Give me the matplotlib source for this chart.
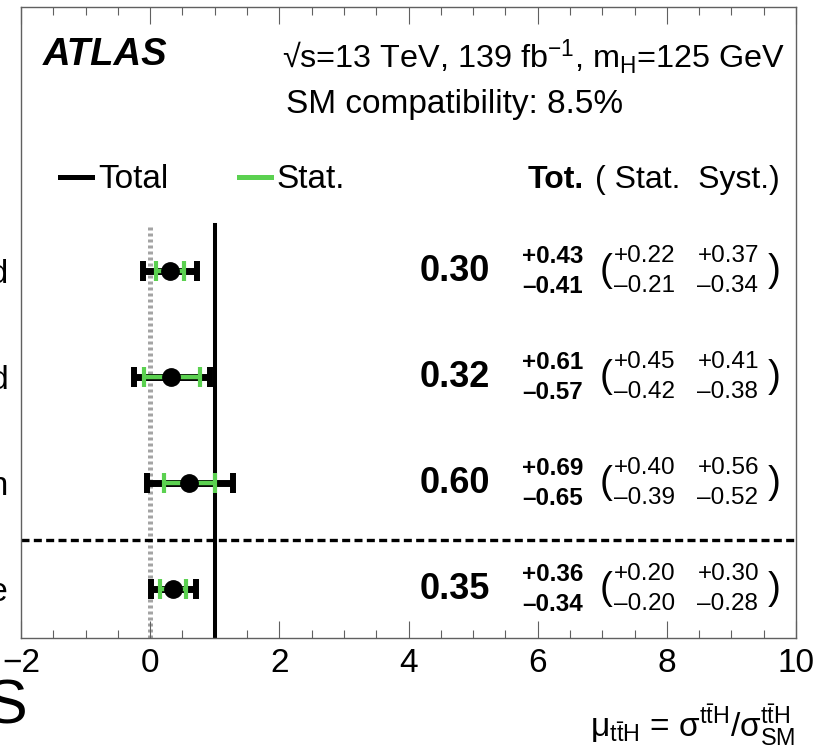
import matplotlib
matplotlib.use("Agg")
import matplotlib.pyplot as plt
from matplotlib.lines import Line2D
from matplotlib.ticker import MultipleLocator

plt.rcParams['font.family'] = ['Liberation Sans', 'DejaVu Sans']
plt.rcParams['mathtext.fontset'] = 'custom'
plt.rcParams['mathtext.rm'] = 'Liberation Sans'
plt.rcParams['mathtext.it'] = 'Liberation Sans:italic'
plt.rcParams['mathtext.bf'] = 'Liberation Sans:bold'

# Signal-strength fits per analysis region (top to bottom)
channels = ["Single-lepton boosted", "Single-lepton resolved", "Dilepton", "Inclusive"]
mu = [0.30, 0.32, 0.60, 0.35]
tot_up = [0.43, 0.61, 0.69, 0.36]
tot_dn = [0.41, 0.57, 0.65, 0.34]
stat_up = [0.22, 0.45, 0.40, 0.20]
stat_dn = [0.21, 0.42, 0.39, 0.20]
syst_up = [0.37, 0.41, 0.56, 0.30]
syst_dn = [0.34, 0.38, 0.52, 0.28]
x_ticks = [-2, 0, 2, 4, 6, 8, 10]

rows = [4, 3, 2, 1]
GREEN = '#5bd150'
FRAME = '#606060'

fig = plt.figure(figsize=(8.26, 7.51), dpi=100)
ax = fig.add_axes([21 / 826, 1 - 638 / 751, 775 / 826, 631 / 751])
ax.set_xlim(-2, 10)
ax.set_ylim(0.54, 6.49)

for s in ax.spines.values():
    s.set_color(FRAME)
    s.set_linewidth(1.0)

ax.set_xticks(x_ticks)
ax.xaxis.set_minor_locator(MultipleLocator(0.5))
ax.tick_params(axis='x', which='both', direction='in', top=True, bottom=True,
               color=FRAME, width=0.8, labelsize=24, pad=7)
ax.tick_params(axis='x', which='major', length=12)
ax.tick_params(axis='x', which='minor', length=6)
ax.set_yticks(rows)
ax.set_yticklabels(channels)
ax.tick_params(axis='y', which='both', length=0, labelsize=24, pad=9)

# reference lines: SM expectation and zero
ax.plot([1, 1], [0.54, 4.43], color='black', lw=2.9, zorder=2)
ax.plot([0, 0], [0.54, 4.43], color='#a4a4a4', lw=3.6, dashes=(0.6, 0.6), zorder=1)
ax.axhline(1.46, color='black', lw=2.4, dashes=(2.4, 1.3), zorder=2)

# total and statistical uncertainties
ax.errorbar(mu, rows, xerr=[tot_dn, tot_up], fmt='none', ecolor='black',
            elinewidth=5.0, capsize=7.2, capthick=4.3, zorder=3)
ax.errorbar(mu, rows, xerr=[stat_dn, stat_up], fmt='none', ecolor=GREEN,
            elinewidth=3.2, capsize=7.2, capthick=3.0, zorder=4)
ax.plot(mu, rows, 'o', color='black', ms=12.5, zorder=5)

# numeric summary columns
dy = 0.142
for r, m, tu, td, su, sd, yu, yd in zip(rows, mu, tot_up, tot_dn, stat_up, stat_dn,
                                        syst_up, syst_dn):
    ax.text(5.266, r, f"{m:.2f}", ha='right', va='center', fontsize=26,
            fontweight='bold')
    ax.text(5.762, r + dy, f"+{tu:.2f}", ha='left', va='center', fontsize=17.5,
            fontweight='bold')
    ax.text(5.762, r - dy, f"\u2013{td:.2f}", ha='left', va='center', fontsize=17.5,
            fontweight='bold')
    ax.text(6.954, r, "(", ha='left', va='center', fontsize=28)
    ax.text(7.187, r + dy, f"+{su:.2f}", ha='left', va='center', fontsize=17.5)
    ax.text(7.187, r - dy, f"\u2013{sd:.2f}", ha='left', va='center', fontsize=17.5)
    ax.text(8.473, r + dy, f"+{yu:.2f}", ha='left', va='center', fontsize=17.5)
    ax.text(8.473, r - dy, f"\u2013{yd:.2f}", ha='left', va='center', fontsize=17.5)
    ax.text(9.557, r, ")", ha='left', va='center', fontsize=28)

# header texts
ax.text(-1.659, 6.04, "ATLAS", ha='left', va='center', fontsize=27.5,
        fontweight='bold', fontstyle='italic')
ax.text(9.836, 6.02, "\u221as=13 TeV, 139 fb$^{\\mathrm{-1}}$, m$_{\\mathrm{H}}$=125 GeV",
        ha='right', va='center', fontsize=23.3)
ax.text(4.71, 5.566, "SM compatibility: 8.5%", ha='center', va='center', fontsize=24)
ax.text(5.839, 4.859, "Tot.", ha='left', va='center', fontsize=23, fontweight='bold')
ax.text(6.892, 4.859, "( Stat.  Syst.)", ha='left', va='center', fontsize=23)

handles = [Line2D([], [], color='black', lw=3.6),
           Line2D([], [], color=GREEN, lw=3.6)]
ax.legend(handles, ["Total", "Stat."], ncol=2, loc='center left',
          bbox_to_anchor=(-1.396, 4.859), bbox_transform=ax.transData,
          frameon=False, fontsize=24, handlelength=0.97, handletextpad=0.18,
          columnspacing=2.1, borderpad=0, borderaxespad=0)

fig.text(795 / 826, 1 - 748 / 751,
         "$\\mathrm{\u03bc}_{\\mathrm{t\\bar{t}H}}$ = "
         "$\\mathrm{\u03c3}^{\\mathrm{t\\bar{t}H}}/\\mathrm{\u03c3}^{\\mathrm{t\\bar{t}H}}_{\\mathrm{SM}}$",
         ha='right', va='bottom', fontsize=24)
fig.text(27 / 826, 1 - 707 / 751, "S", ha='right', va='center', fontsize=45)

fig.savefig("out.png", dpi=100)
